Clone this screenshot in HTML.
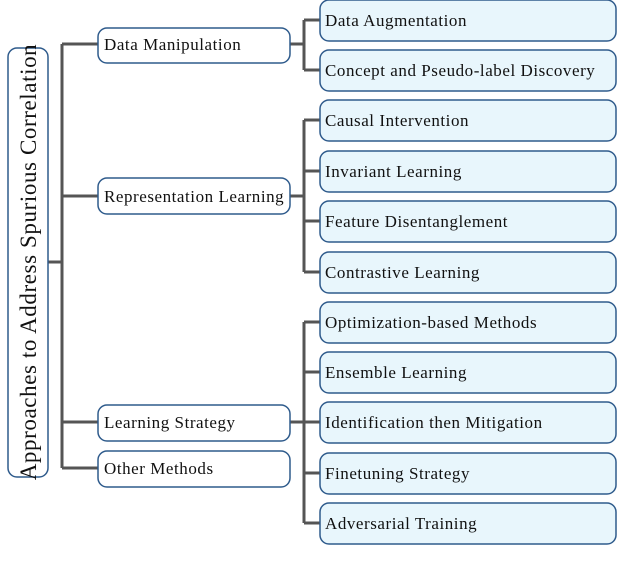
<!DOCTYPE html>
<html><head><meta charset="utf-8"><style>
html,body{margin:0;padding:0;background:#fff;width:640px;height:573px;overflow:hidden}
text{font-family:"Liberation Serif",serif;fill:#111}
</style></head><body>
<svg width="640" height="573" viewBox="0 0 640 573" xmlns="http://www.w3.org/2000/svg">
<g stroke="#555" stroke-width="3" fill="none">
<path d="M48 262H62M62 44V468M62 44H98M62 196H98M62 422H98M62 468H98"/>
<path d="M290 44H304M304 20V70M304 20H320M304 70H320"/>
<path d="M290 196H304M304 120V272M304 120H320M304 171H320M304 221H320M304 272H320"/>
<path d="M290 422H304M304 322V523M304 322H320M304 372H320M304 422H320M304 473H320M304 523H320"/>
</g>
<g stroke="#2f5b8c" stroke-width="1.5">
<rect x="8" y="48" width="40" height="429" rx="9" fill="#fff"/>
<rect x="98" y="28" width="192" height="35" rx="9" fill="#fff"/>
<rect x="98" y="178" width="192" height="36" rx="9" fill="#fff"/>
<rect x="98" y="405" width="192" height="36" rx="9" fill="#fff"/>
<rect x="98" y="451" width="192" height="36" rx="9" fill="#fff"/>
<g fill="#e8f6fc">
<rect x="320" y="0" width="296" height="41" rx="9"/>
<rect x="320" y="50" width="296" height="41" rx="9"/>
<rect x="320" y="100" width="296" height="41" rx="9"/>
<rect x="320" y="151" width="296" height="41" rx="9"/>
<rect x="320" y="201" width="296" height="41" rx="9"/>
<rect x="320" y="252" width="296" height="41" rx="9"/>
<rect x="320" y="302" width="296" height="41" rx="9"/>
<rect x="320" y="352" width="296" height="41" rx="9"/>
<rect x="320" y="402" width="296" height="41" rx="9"/>
<rect x="320" y="453" width="296" height="41" rx="9"/>
<rect x="320" y="503" width="296" height="41" rx="9"/>
</g>
</g>
<text x="0" y="0" font-size="23" letter-spacing="0.6" text-anchor="middle" transform="translate(36 262) rotate(-90)">Approaches to Address Spurious Correlation</text>
<g font-size="17" letter-spacing="0.55">
<text x="104" y="50">Data Manipulation</text>
<text x="104" y="202">Representation Learning</text>
<text x="104" y="428">Learning Strategy</text>
<text x="104" y="474">Other Methods</text>
<text x="325" y="26">Data Augmentation</text>
<text x="325" y="76">Concept and Pseudo-label Discovery</text>
<text x="325" y="126">Causal Intervention</text>
<text x="325" y="177">Invariant Learning</text>
<text x="325" y="227">Feature Disentanglement</text>
<text x="325" y="278">Contrastive Learning</text>
<text x="325" y="328">Optimization-based Methods</text>
<text x="325" y="378">Ensemble Learning</text>
<text x="325" y="428">Identification then Mitigation</text>
<text x="325" y="479">Finetuning Strategy</text>
<text x="325" y="529">Adversarial Training</text>
</g>
</svg>
</body></html>
